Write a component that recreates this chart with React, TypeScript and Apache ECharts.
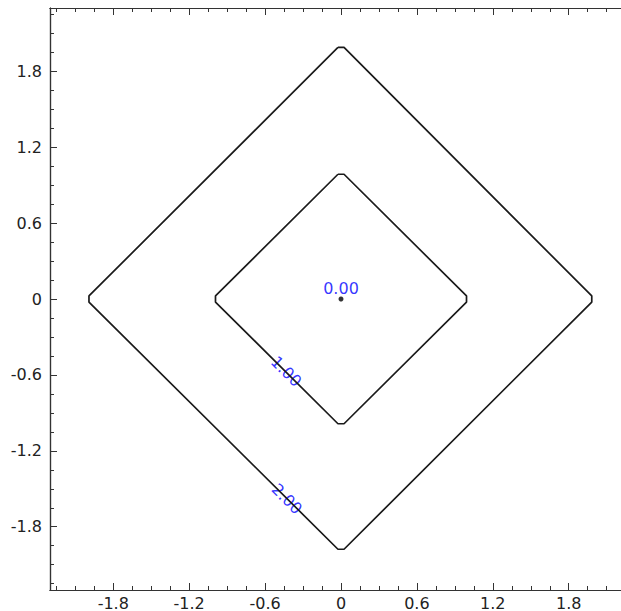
import React, { useEffect, useRef } from "react";
import * as echarts from "echarts";

const axisMin = -2.3;
const axisMax = 2.3;
const majorTicks = [-1.8, -1.2, -0.6, 0, 0.6, 1.2, 1.8];
const minorTicks = [-2.25, -2.1, -1.95, -1.65, -1.5, -1.35, -1.05, -0.9, -0.75, -0.45, -0.3, -0.15, 0.15, 0.3, 0.45, 0.75, 0.9, 1.05, 1.35, 1.5, 1.65, 1.95, 2.1, 2.25];

const contourLevels = ["0.00", "1.00", "2.00"];
const innerContour: number[][] = [
  [-0.024, 0.986], [0.024, 0.986], [0.992, 0.024], [0.992, -0.024],
  [0.024, -0.986], [-0.024, -0.986], [-0.992, -0.024], [-0.992, 0.024], [-0.024, 0.986],
];
const outerContour: number[][] = [
  [-0.024, 1.988], [0.024, 1.988], [1.982, 0.024], [1.982, -0.024],
  [0.024, -1.978], [-0.024, -1.978], [-1.992, -0.024], [-1.992, 0.024], [-0.024, 1.988],
];
const centerPoint = [0, 0];
const labelPositions: number[][] = [
  [0, 0.084],
  [-0.433, -0.573],
  [-0.428, -1.58],
];

const FONT = "DejaVu Sans";
const fmt = (v: number) => {
  const r = Math.round(v * 10) / 10;
  return r === 0 ? "0" : String(r);
};

function makeAxis(kind: "x" | "y", position: string, showLabels: boolean, ticks: number[], len: number) {
  return {
    type: "value",
    min: axisMin,
    max: axisMax,
    position,
    axisLine: { show: true, onZero: false, lineStyle: { color: "#333", width: 1.2 } },
    axisTick: { show: true, inside: true, length: len, customValues: ticks, lineStyle: { color: "#333", width: 1 } },
    axisLabel: {
      show: showLabels,
      customValues: majorTicks,
      formatter: fmt,
      fontFamily: FONT,
      fontSize: 16,
      lineHeight: 16,
      color: "#222",
      margin: kind === "x" ? 5 : 8,
    },
    splitLine: { show: false },
  };
}

export default function App() {
  const ref = useRef<HTMLDivElement>(null);
  useEffect(() => {
    document.body.style.margin = "0";
    document.body.style.overflow = "hidden";
    document.documentElement.style.overflow = "hidden";
    const chart = echarts.init(ref.current!, null, { renderer: "svg" });
    const lineStyle = { color: "#1a1a1a", width: 1.7 };
    chart.setOption({
      animation: false,
      backgroundColor: "#fff",
      grid: { left: 50, top: 8, right: 1, bottom: 21, containLabel: false, outerBoundsMode: "none" },
      xAxis: [
        makeAxis("x", "bottom", true, majorTicks, 7),
        makeAxis("x", "bottom", false, minorTicks, 4),
        makeAxis("x", "top", false, majorTicks, 7),
        makeAxis("x", "top", false, minorTicks, 4),
      ],
      yAxis: [
        makeAxis("y", "left", true, majorTicks, 7),
        makeAxis("y", "left", false, minorTicks, 4),
        makeAxis("y", "right", false, majorTicks, 7),
        makeAxis("y", "right", false, minorTicks, 4),
      ],
      series: [
        { type: "line", data: outerContour, symbol: "none", lineStyle, silent: true },
        { type: "line", data: innerContour, symbol: "none", lineStyle, silent: true },
        {
          type: "scatter",
          data: [centerPoint],
          symbol: "circle",
          symbolSize: 5,
          itemStyle: { color: "#000" },
        },
        {
          type: "scatter",
          symbolSize: 0,
          data: labelPositions.map((p, i) => ({
            value: p,
            label: {
              show: true,
              position: "inside",
              formatter: contourLevels[i],
              rotate: i === 0 ? 0 : -45,
              color: "#0000ff",
              fontFamily: FONT,
              fontSize: 16,
            },
          })),
        },
      ],
    });
    return () => chart.dispose();
  }, []);
  return <div ref={ref} style={{ width: 633, height: 611 }} />;
}
